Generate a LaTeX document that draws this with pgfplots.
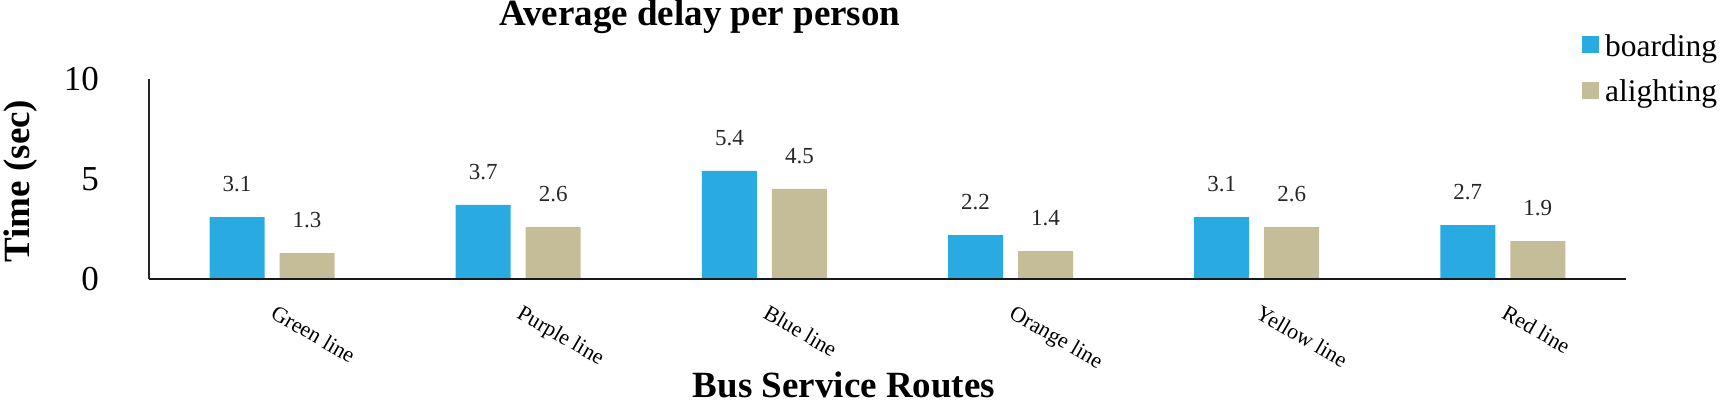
\documentclass[border=0pt]{standalone}
\usepackage{fontspec}
\setmainfont{Liberation Serif}
\usepackage{pgfplots}
\pgfplotsset{compat=1.18}
\definecolor{cblue}{HTML}{29ABE2}
\definecolor{ctan}{HTML}{C4BD97}
\begin{document}
\begin{tikzpicture}
\useasboundingbox (0,0) rectangle (1722pt,-403pt);
\begin{axis}[
  at={(149pt,-279pt)}, anchor=south west,
  scale only axis, width=1477pt, height=200pt,
  xmin=-0.5, xmax=5.5, ymin=0, ymax=10,
  enlargelimits=false,
  axis x line=bottom, axis y line=left,
  axis line style={-},
  x axis line style={line width=2.7pt, color=black!90},
  y axis line style={line width=2pt, color=black!85},
  axis on top=true,
  ybar=15pt, bar width=55pt,
  xtick=data,
  xticklabels={Green line, Purple line, Blue line, Orange line, Yellow line, Red line},
  ytick={0,5,10},
  major tick length=0pt,
  /pgf/number format/assume math mode=true,
  yticklabel style={font=\fontsize{35}{40}\selectfont, inner sep=0pt, anchor=east, xshift=-50pt},
  xticklabel style={font=\fontsize{22}{26}\selectfont, rotate=-30, anchor=north west, inner sep=0pt, xshift=17pt, yshift=-19pt},
  nodes near coords,
  nodes near coords style={font=\fontsize{23}{27}\selectfont, anchor=south, inner sep=0pt, yshift=25pt, text=black!85},
  title={Average delay per person},
  title style={font=\bfseries\fontsize{37}{42}\selectfont, at={(axis description cs:0.373,1.235)}, anchor=base},
  xlabel={Bus Service Routes},
  xlabel style={font=\bfseries\fontsize{37}{42}\selectfont, at={(axis description cs:0.4706,-0.59)}, anchor=base},
  ylabel={Time (sec)},
  ylabel style={font=\bfseries\fontsize{37}{42}\selectfont, at={(axis description cs:-0.0806,0.49)}, anchor=base},
  legend image code/.code={\fill[#1,draw=none] (0pt,-7pt) rectangle (17pt,10pt);},
  legend style={at={(axis description cs:0.9702,1.2225)}, anchor=north west, draw=none, fill=none, inner sep=0pt,
    font=\fontsize{31.5}{36}\selectfont, row sep=22pt,
    nodes={inner sep=0pt},
    /tikz/every odd column/.append style={column sep=6pt}},
  legend cell align=left,
]
\addplot[fill=cblue, draw=none] coordinates {(0,3.1) (1,3.7) (2,5.4) (3,2.2) (4,3.1) (5,2.7)};
\addplot[fill=ctan, draw=none] coordinates {(0,1.3) (1,2.6) (2,4.5) (3,1.4) (4,2.6) (5,1.9)};
\legend{boarding, alighting}
\end{axis}
\end{tikzpicture}
\end{document}
